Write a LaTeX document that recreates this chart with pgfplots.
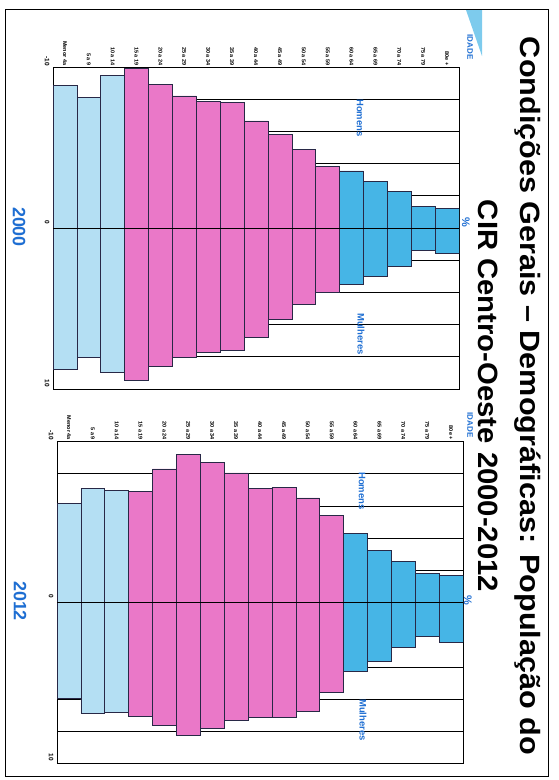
\documentclass[border=0pt]{standalone}
\usepackage{pgfplots}
\pgfplotsset{compat=1.18}
\usepackage{pgfplotstable}
\usepackage{graphicx}
\usepackage{fontspec}
\setmainfont{Liberation Sans}

\definecolor{azulclaro}{RGB}{180,223,243}
\definecolor{rosa}{RGB}{234,120,200}
\definecolor{azul}{RGB}{70,181,230}
\definecolor{texto}{RGB}{30,110,210}
\definecolor{contorno}{RGB}{40,40,70}

% x = faixa etaria (0 = menor 4a ... 16 = 80e+), m = homens %, w = mulheres %
\pgfplotstableread{
x m w
0 8.85 8.80
1 8.10 8.00
2 9.50 8.95
3 9.90 9.45
4 8.90 8.60
5 8.20 8.00
6 7.85 7.70
7 7.80 7.60
8 6.65 6.80
9 5.80 5.70
10 4.90 4.75
11 3.85 4.00
12 3.55 3.50
13 2.90 3.00
14 2.25 2.35
15 1.35 1.40
16 1.20 1.60
}\anoA

\pgfplotstableread{
x m w
0 6.15 5.95
1 7.10 6.90
2 6.95 6.85
3 6.90 7.05
4 8.30 7.65
5 9.20 8.25
6 8.70 7.80
7 8.05 7.30
8 7.10 7.15
9 7.15 7.10
10 6.50 6.75
11 5.40 5.60
12 4.30 4.30
13 3.25 3.65
14 2.55 2.80
15 1.80 2.10
16 1.70 2.45
}\anoB

\pgfplotsset{
  piramide/.style={
    scale only axis, width=406bp, height=322bp,
    xmin=-0.5, xmax=16.5, ymin=-10, ymax=10,
    xtick={0,...,16},
    xticklabels={Menor 4a,5 a 9,10 a 14,15 a 19,20 a 24,25 a 29,30 a 34,35 a 39,
      40 a 44,45 a 49,50 a 54,55 a 59,60 a 64,65 a 69,70 a 74,75 a 79,80e +},
    xtick pos=right, xticklabel pos=right,
    x tick style={draw=none},
    minor xtick={-0.5,0.5,...,16.5},
    minor tick length=3.5bp,
    minor x tick style={yshift=3.5bp, black, line width=0.6pt},
    xticklabel style={rotate=-90, anchor=east, inner sep=1.5bp,
      font=\fontsize{5.5}{6}\selectfont\bfseries},
    ytick={-10,-8,...,10},
    yticklabels={10,,,,,0,,,,,-10},
    ytick pos=left,
    major tick length=3bp,
    y tick style={black, line width=0.6pt},
    yticklabel style={rotate=-90, anchor=north, xshift=-6bp,
      font=\fontsize{6.5}{7}\selectfont\bfseries},
    ymajorgrids, grid style={black, line width=0.7pt},
    axis line style={black, line width=0.8pt},
  },
  barra/.style={ybar, bar width=1, bar shift=0pt, draw=contorno, line width=0.6pt,
    fill=#1},
}

\begin{document}
\begin{tikzpicture}
\path[use as bounding box] (0,0) rectangle (559bp,-780bp);
\draw[black, line width=0.8pt] (5bp,-9bp) rectangle (548bp,-776bp);
\fill[azul!70] (466bp,-10bp) -- (482bp,-10bp) -- (482bp,-56bp) -- cycle;

% 2000
\begin{axis}[piramide, at={(256bp,-228bp)}, anchor=center]
  \addplot[barra=azulclaro, restrict x to domain=0:2] table[x=x, y=m] {\anoA};
  \addplot[barra=rosa, restrict x to domain=3:11] table[x=x, y=m] {\anoA};
  \addplot[barra=azul, restrict x to domain=12:16] table[x=x, y=m] {\anoA};
  \addplot[barra=azulclaro, restrict x to domain=0:2] table[x=x, y expr=-\thisrow{w}] {\anoA};
  \addplot[barra=rosa, restrict x to domain=3:11] table[x=x, y expr=-\thisrow{w}] {\anoA};
  \addplot[barra=azul, restrict x to domain=12:16] table[x=x, y expr=-\thisrow{w}] {\anoA};
  \addplot[black, line width=0.7pt, sharp plot] coordinates {(-0.5,0) (16.5,0)};
  \draw[black, line width=1.3pt] (rel axis cs:0,1) -- (rel axis cs:1,1);
\end{axis}

% 2012
\begin{axis}[piramide, at={(260bp,-602.5bp)}, anchor=center]
  \addplot[barra=azulclaro, restrict x to domain=0:2] table[x=x, y=m] {\anoB};
  \addplot[barra=rosa, restrict x to domain=3:11] table[x=x, y=m] {\anoB};
  \addplot[barra=azul, restrict x to domain=12:16] table[x=x, y=m] {\anoB};
  \addplot[barra=azulclaro, restrict x to domain=0:2] table[x=x, y expr=-\thisrow{w}] {\anoB};
  \addplot[barra=rosa, restrict x to domain=3:11] table[x=x, y expr=-\thisrow{w}] {\anoB};
  \addplot[barra=azul, restrict x to domain=12:16] table[x=x, y expr=-\thisrow{w}] {\anoB};
  \addplot[black, line width=0.7pt, sharp plot] coordinates {(-0.5,0) (16.5,0)};
  \draw[black, line width=1.3pt] (rel axis cs:0,1) -- (rel axis cs:1,1);
\end{axis}

% titulo
\node[rotate=-90, anchor=base, font=\bfseries\fontsize{28}{30}\selectfont]
  at (520bp,-396bp) {\resizebox{718bp}{\height}{Condições Gerais – Demográficas: População do}};
\node[rotate=-90, anchor=base, font=\bfseries\fontsize{28}{30}\selectfont]
  at (478bp,-396bp) {\resizebox{392bp}{\height}{CIR Centro-Oeste 2000-2012}};

% rotulos
\begin{scope}[every node/.style={rotate=-90, text=texto, font=\bfseries}]
  \node[font=\bfseries\fontsize{8}{9}\selectfont] at (470bp,-47bp) {IDADE};
  \node[font=\bfseries\fontsize{8}{9}\selectfont] at (470bp,-425bp) {IDADE};
  \node[font=\bfseries\fontsize{11}{12}\selectfont] at (466bp,-222bp) {\%};
  \node[font=\bfseries\fontsize{11}{12}\selectfont] at (468bp,-600bp) {\%};
  \node[font=\bfseries\fontsize{9.5}{10}\selectfont] at (360bp,-118bp) {Homens};
  \node[font=\bfseries\fontsize{9.5}{10}\selectfont] at (361bp,-334bp) {Mulheres};
  \node[font=\bfseries\fontsize{9.5}{10}\selectfont] at (362bp,-491bp) {Homens};
  \node[font=\bfseries\fontsize{9.5}{10}\selectfont] at (363bp,-720bp) {Mulheres};
  \node[font=\bfseries\fontsize{18}{20}\selectfont] at (19bp,-227bp) {2000};
  \node[font=\bfseries\fontsize{18}{20}\selectfont] at (20bp,-601bp) {2012};
\end{scope}
\end{tikzpicture}
\end{document}
